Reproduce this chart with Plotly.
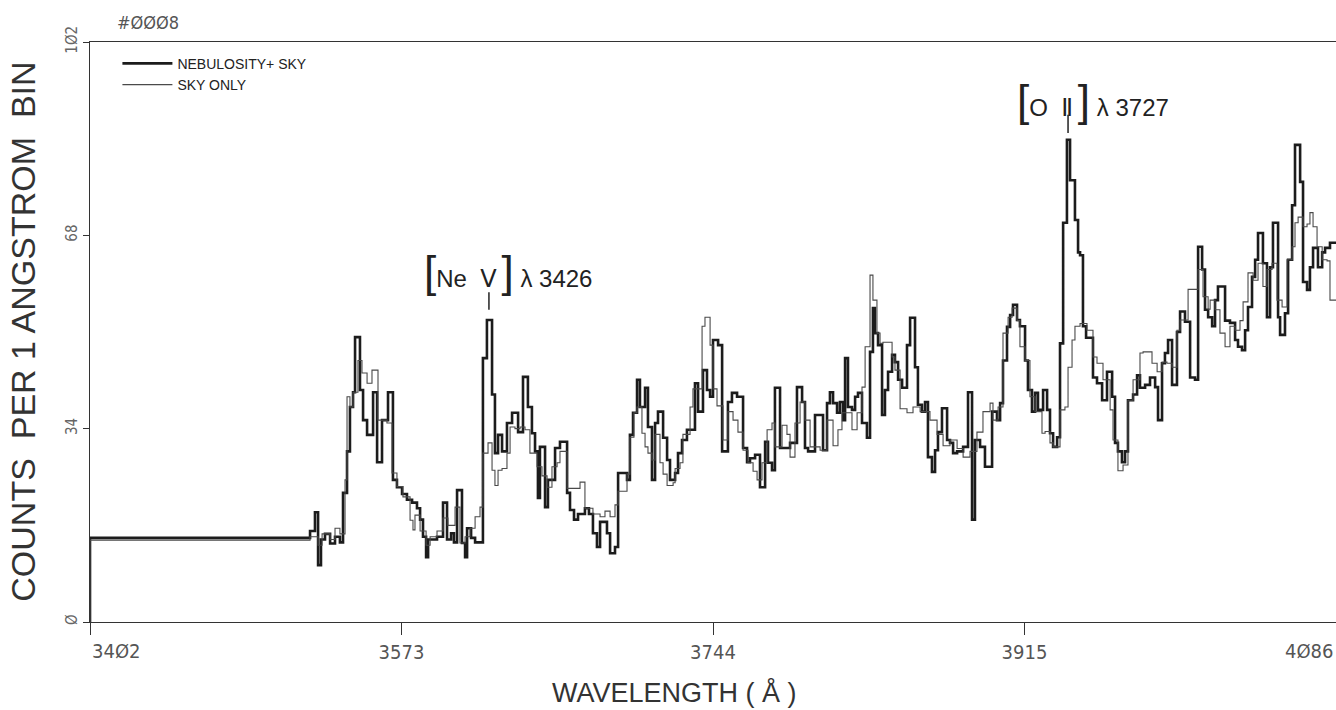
import plotly.graph_objects as go

# ---- data ----
neb_wl = [3402.0, 3402.0, 3522.8, 3525.5, 3527.2, 3528.8, 3531.0, 3533.8, 3536.5, 3539.2,
          3540.9, 3543.1, 3544.7, 3546.4, 3547.5, 3550.2, 3551.9, 3554.1, 3557.4, 3559.6,
          3562.3, 3565.6, 3568.3, 3570.5, 3573.3, 3576.0, 3578.8, 3581.5, 3583.2, 3584.8,
          3586.5, 3587.6, 3592.5, 3595.8, 3598.0, 3600.2, 3601.8, 3603.5, 3606.2, 3607.9,
          3609.0, 3611.2, 3613.4, 3617.7, 3619.9, 3622.7, 3624.3, 3626.0, 3628.2, 3630.9,
          3633.7, 3637.0, 3639.7, 3642.4, 3644.6, 3646.3, 3647.9, 3649.0, 3651.8, 3653.4,
          3657.3, 3660.0, 3663.9, 3665.5, 3667.7, 3669.9, 3673.7, 3675.9, 3678.1, 3680.3,
          3682.0, 3685.8, 3687.5, 3690.2, 3691.9, 3696.8, 3698.4, 3700.1, 3702.3, 3703.9,
          3706.7, 3708.3, 3710.5, 3712.2, 3713.8, 3716.6, 3718.8, 3720.4, 3723.2, 3724.8,
          3727.0, 3729.7, 3734.1, 3735.8, 3738.5, 3740.7, 3742.4, 3744.0, 3746.8, 3749.0,
          3752.2, 3754.4, 3757.2, 3760.5, 3762.7, 3764.3, 3767.1, 3769.8, 3772.6, 3774.2,
          3776.4, 3778.0, 3780.8, 3786.3, 3790.1, 3792.9, 3794.5, 3796.2, 3800.0, 3804.4,
          3806.6, 3808.2, 3809.9, 3812.1, 3813.7, 3815.4, 3816.5, 3818.1, 3820.3, 3822.0,
          3823.6, 3825.8, 3828.5, 3830.2, 3831.8, 3832.9, 3834.6, 3836.8, 3838.4, 3840.1,
          3842.3, 3843.9, 3845.6, 3847.8, 3850.5, 3852.2, 3854.9, 3856.5, 3858.7, 3860.4,
          3862.0, 3864.2, 3865.9, 3867.5, 3869.7, 3872.5, 3874.1, 3875.8, 3878.0, 3881.3,
          3884.0, 3886.2, 3887.8, 3890.6, 3893.3, 3897.2, 3899.9, 3901.6, 3903.2, 3905.4,
          3907.1, 3908.7, 3910.9, 3912.5, 3915.3, 3916.9, 3919.1, 3920.8, 3922.4, 3925.2,
          3927.4, 3929.0, 3930.7, 3932.9, 3934.5, 3936.2, 3938.3, 3940.0, 3942.7, 3944.4,
          3945.5, 3947.1, 3948.8, 3952.6, 3954.8, 3957.6, 3960.3, 3963.1, 3964.7, 3966.3,
          3968.5, 3970.2, 3971.8, 3974.6, 3976.8, 3978.4, 3981.2, 3983.9, 3986.7, 3988.3,
          3990.5, 3992.1, 3993.8, 3996.0, 3998.7, 4000.4, 4003.1, 4005.9, 4008.6, 4010.3,
          4012.5, 4014.1, 4015.8, 4018.0, 4019.6, 4021.2, 4025.1, 4027.8, 4030.6, 4032.2,
          4034.4, 4036.1, 4037.7, 4039.9, 4041.6, 4043.2, 4045.9, 4048.1, 4049.8, 4051.4,
          4054.2, 4055.3, 4058.0, 4059.7, 4061.9, 4063.5, 4066.3, 4067.9, 4070.1, 4071.7,
          4073.4, 4076.1, 4078.4, 4080.0, 4082.7, 4086.0]
neb_counts = [0.0, 14.8, 16.0, 19.3, 10.0, 14.5, 15.5, 13.8, 15.0, 14.0,
              22.7, 30.0, 37.8, 40.4, 50.1, 40.8, 35.5, 32.9, 40.4, 28.1,
              35.5, 40.4, 25.0, 23.7, 22.5, 21.5, 21.0, 20.0, 18.0, 15.0,
              11.4, 14.5, 15.0, 21.0, 14.5, 15.6, 14.0, 23.2, 13.9, 11.4,
              16.5, 14.8, 14.0, 46.4, 53.1, 40.0, 29.7, 32.9, 30.0, 35.0,
              36.8, 33.4, 43.1, 37.8, 33.2, 30.0, 21.8, 30.8, 20.2, 25.0,
              30.6, 31.7, 22.7, 19.7, 18.0, 19.0, 20.0, 19.0, 15.6, 13.2,
              17.6, 15.6, 12.1, 13.2, 26.2, 25.0, 32.9, 36.8, 42.6, 37.8,
              41.2, 34.3, 25.0, 35.0, 37.0, 32.4, 28.5, 25.0, 26.2, 29.7,
              32.0, 33.8, 42.0, 37.0, 44.3, 40.8, 39.6, 49.6, 48.7, 30.0,
              38.7, 40.3, 39.6, 30.6, 28.1, 28.8, 29.4, 23.7, 31.7, 28.0,
              26.7, 41.2, 30.6, 31.5, 41.3, 38.7, 30.6, 30.0, 36.4, 30.2,
              38.5, 40.4, 38.5, 36.8, 38.7, 35.5, 46.4, 37.8, 37.3, 39.6,
              40.3, 35.0, 32.4, 47.5, 55.2, 50.8, 48.7, 36.4, 40.8, 44.0,
              47.0, 45.7, 42.6, 41.2, 48.7, 53.5, 44.8, 38.2, 37.0, 38.7,
              29.0, 26.4, 30.2, 33.4, 37.6, 32.0, 31.5, 29.7, 30.0, 30.8,
              40.4, 18.0, 32.0, 30.8, 27.3, 37.0, 35.5, 38.5, 46.0, 51.9,
              54.0, 55.8, 53.1, 52.0, 46.0, 40.8, 37.0, 40.3, 37.3, 40.8,
              37.3, 33.2, 30.8, 32.5, 49.0, 70.2, 84.8, 77.7, 70.7, 65.0,
              64.5, 52.0, 50.0, 43.0, 42.0, 39.0, 44.0, 39.6, 31.5, 30.0,
              28.1, 30.0, 39.0, 40.0, 43.4, 41.2, 41.7, 43.0, 41.3, 35.5,
              45.5, 47.3, 49.6, 41.7, 51.0, 54.6, 52.8, 43.0, 42.6, 66.0,
              62.0, 54.9, 53.6, 52.0, 56.6, 59.0, 53.0, 52.6, 49.6, 48.4,
              47.8, 51.3, 55.4, 60.7, 63.7, 68.4, 63.1, 53.6, 62.4, 70.2,
              53.6, 50.5, 54.3, 63.7, 73.3, 83.9, 77.4, 59.8, 58.4, 62.4,
              65.8, 62.4, 65.0, 65.8, 66.7, 66.7]

sky_wl = [3402.0, 3402.0, 3522.8, 3527.2, 3529.4, 3533.8, 3536.5, 3539.2, 3542.0, 3543.1,
          3544.7, 3546.4, 3549.1, 3551.3, 3554.1, 3556.8, 3560.1, 3565.0, 3567.8, 3570.5,
          3573.8, 3577.7, 3579.3, 3580.4, 3583.2, 3586.5, 3588.7, 3592.5, 3595.8, 3598.5,
          3602.4, 3605.1, 3607.9, 3610.6, 3613.4, 3616.1, 3617.7, 3620.5, 3622.7, 3624.3,
          3626.0, 3628.2, 3630.9, 3632.6, 3635.3, 3638.1, 3640.8, 3643.5, 3647.4, 3650.1,
          3652.9, 3655.6, 3658.4, 3660.0, 3663.9, 3671.0, 3673.7, 3678.1, 3682.0, 3684.7,
          3687.5, 3690.2, 3691.9, 3696.8, 3698.4, 3700.6, 3702.3, 3705.0, 3706.7, 3708.3,
          3710.5, 3712.2, 3714.9, 3716.6, 3718.8, 3722.1, 3723.2, 3725.9, 3727.5, 3731.4,
          3733.0, 3738.0, 3739.6, 3742.4, 3744.0, 3746.2, 3749.5, 3752.2, 3755.0, 3757.7,
          3760.5, 3763.2, 3766.0, 3768.2, 3770.9, 3773.7, 3776.4, 3778.0, 3781.9, 3784.6,
          3786.3, 3789.0, 3791.8, 3794.5, 3797.3, 3802.8, 3806.6, 3809.9, 3812.6, 3814.8,
          3820.3, 3823.1, 3825.8, 3827.5, 3830.2, 3831.8, 3834.0, 3835.7, 3837.3, 3842.3,
          3843.9, 3846.7, 3850.5, 3853.8, 3857.7, 3863.1, 3867.0, 3870.3, 3874.1, 3878.0,
          3881.3, 3885.1, 3888.9, 3892.2, 3896.1, 3897.7, 3900.5, 3903.2, 3906.0, 3908.2,
          3910.9, 3912.5, 3915.3, 3918.0, 3920.8, 3924.6, 3926.3, 3929.0, 3930.7, 3934.5,
          3937.2, 3938.9, 3941.1, 3942.7, 3945.5, 3949.3, 3952.6, 3954.8, 3958.1, 3962.0,
          3963.6, 3966.3, 3969.1, 3971.8, 3974.6, 3978.4, 3980.1, 3985.0, 3987.8, 3990.5,
          3993.2, 3996.0, 3998.7, 4000.4, 4004.8, 4010.3, 4013.0, 4015.8, 4016.9, 4019.6,
          4022.3, 4025.1, 4027.8, 4030.6, 4033.3, 4035.0, 4037.7, 4040.5, 4043.2, 4045.9,
          4048.1, 4050.9, 4053.6, 4056.4, 4059.1, 4061.9, 4063.5, 4065.2, 4067.9, 4070.1,
          4071.7, 4073.4, 4075.6, 4078.4, 4081.1, 4082.7, 4086.0]
sky_counts = [0.0, 14.4, 15.0, 13.5, 15.5, 14.5, 16.5, 15.5, 25.0, 39.6,
              37.8, 40.4, 46.0, 43.8, 42.0, 44.3, 35.5, 35.0, 26.2, 23.8,
              22.0, 17.9, 16.2, 18.8, 16.0, 13.5, 15.0, 16.0, 18.3, 17.0,
              20.2, 13.9, 15.0, 16.5, 18.5, 20.2, 29.7, 31.5, 26.7, 24.0,
              26.7, 27.0, 29.7, 34.3, 34.0, 34.3, 33.8, 29.7, 27.3, 25.7,
              23.7, 27.3, 28.0, 30.0, 23.5, 24.6, 20.0, 19.0, 18.5, 19.5,
              18.5, 20.6, 23.0, 26.0, 32.5, 36.8, 37.8, 33.2, 30.8, 29.7,
              28.5, 33.0, 28.0, 26.0, 24.0, 24.5, 27.0, 28.0, 33.0, 37.8,
              41.0, 52.0, 53.6, 48.7, 41.0, 38.0, 32.0, 37.0, 35.5, 33.4,
              30.2, 28.0, 26.5, 25.0, 28.0, 33.8, 35.0, 30.8, 34.6, 33.0,
              29.0, 35.0, 38.7, 35.5, 30.8, 30.2, 35.5, 31.0, 33.8, 36.8,
              33.8, 36.8, 41.3, 48.4, 61.0, 56.6, 50.8, 49.0, 49.2, 46.6,
              44.3, 37.5, 36.8, 37.8, 37.0, 35.5, 33.0, 31.0, 32.0, 30.5,
              29.0, 30.0, 33.4, 37.0, 38.5, 35.5, 37.8, 50.8, 53.6, 55.2,
              53.0, 48.4, 46.0, 39.6, 37.0, 33.2, 33.5, 31.5, 30.8, 37.3,
              37.8, 44.8, 49.6, 52.0, 52.5, 51.3, 46.6, 45.5, 42.6, 37.3,
              32.0, 26.6, 27.6, 39.0, 42.6, 47.3, 47.5, 45.5, 44.0, 45.7,
              45.5, 44.8, 51.3, 53.1, 58.5, 62.0, 57.2, 55.0, 56.6, 54.9,
              50.8, 48.4, 52.0, 51.3, 53.0, 56.3, 61.4, 60.1, 63.1, 59.0,
              62.0, 63.1, 56.6, 55.4, 63.7, 66.0, 70.2, 71.2, 69.5, 70.0,
              72.0, 69.5, 66.0, 63.7, 63.5, 56.6, 56.6]

x_ticks = [3402, 3573, 3744, 3915, 4086]
x_tick_text = ["34Ø2", "3573", "3744", "3915", "4Ø86"]
y_ticks = [0, 34, 68, 102]
y_tick_text = ["Ø", "34", "68", "1Ø2"]

x_range = [3402, 4086]
y_range = [0, 102]

# line identifications: (ion, lambda, line x, label y, tick top, tick bottom, label left)
lines = [
    ("Ne  Ⅴ\u2009", "3426", 3621.0, 61.6, 58.0, 54.9, 3584.0),
    ("O  Ⅱ\u2009", "3727", 3938.9, 91.8, 89.2, 86.0, 3910.0),
]

FONT = "Liberation Sans Narrow, DejaVu Sans Condensed, Liberation Sans, sans-serif"
SANS = "Liberation Sans, DejaVu Sans, sans-serif"
INK = "#222222"

fig = go.Figure()
fig.add_trace(go.Scatter(x=neb_wl, y=neb_counts, mode="lines", line_shape="hv",
                         line=dict(color="#1c1c1c", width=2.6), name="NEBULOSITY+ SKY"))
fig.add_trace(go.Scatter(x=sky_wl, y=sky_counts, mode="lines", line_shape="hv",
                         line=dict(color="#4a4a4a", width=1.1), name="SKY ONLY"))

annotations = []
shapes = []
for name, lam, xline, ytext, ytop, ybot, xleft in lines:
    br = "<span style='font-size:44px;color:%s'>%s</span>"
    annotations.append(dict(
        x=xleft, y=ytext, xref="x", yref="y", xanchor="left", yanchor="middle",
        showarrow=False,
        text=(br % (INK, "[") + name + br % (INK, "]") + " λ " + lam),
        font=dict(family=SANS, size=24, color=INK)))
    shapes.append(dict(type="line", xref="x", yref="y", x0=xline, x1=xline,
                       y0=ybot, y1=ytop, line=dict(color=INK, width=1.5)))

# end tick labels (first left-aligned, last right-aligned as in the plot)
annotations.append(dict(x=x_ticks[0], y=-0.05, xref="x", yref="paper", xanchor="left",
                        yanchor="middle", showarrow=False, text=x_tick_text[0],
                        font=dict(family=FONT, size=20, color="#555")))
annotations.append(dict(x=x_ticks[-1], y=-0.05, xref="x", yref="paper", xanchor="right",
                        yanchor="middle", showarrow=False, text=x_tick_text[-1],
                        font=dict(family=FONT, size=20, color="#555")))
# titles
annotations.append(dict(x=-0.054, y=0.5, xref="paper", yref="paper", xanchor="center",
                        yanchor="middle", showarrow=False, textangle=-90,
                        text="COUNTS  PER 1 ANGSTROM  BIN",
                        font=dict(family=SANS, size=34, color="#333")))
annotations.append(dict(x=0.4695, y=-0.121, xref="paper", yref="paper", xanchor="center",
                        yanchor="middle", showarrow=False, text="WAVELENGTH ( Å )",
                        font=dict(family=SANS, size=27, color="#333")))
annotations.append(dict(x=0.02, y=1.034, xref="paper", yref="paper", xanchor="left",
                        yanchor="middle", showarrow=False, text="#ØØØ8",
                        font=dict(family=FONT, size=18, color="#555")))

fig.update_layout(
    width=1336, height=710,
    margin=dict(l=90, r=0, t=42, b=88),
    paper_bgcolor="white", plot_bgcolor="white",
    showlegend=True,
    legend=dict(x=0.022, y=0.99, xanchor="left", yanchor="top",
                bgcolor="rgba(0,0,0,0)", font=dict(family=SANS, size=14, color="#222"),
                tracegroupgap=0, itemwidth=50),
    annotations=annotations, shapes=shapes,
    xaxis=dict(range=x_range, tickvals=x_ticks,
               ticktext=[""] + x_tick_text[1:-1] + [""],
               showgrid=False, zeroline=False, showline=True, mirror=True,
               linecolor="#333", linewidth=1, ticks="outside", ticklen=12,
               tickcolor="#333", automargin=False,
               tickfont=dict(family=FONT, size=20, color="#555")),
    yaxis=dict(range=y_range, tickvals=y_ticks, ticktext=y_tick_text,
               showgrid=False, zeroline=False, showline=True, mirror=True,
               linecolor="#333", linewidth=1, ticks="outside", ticklen=6,
               tickcolor="#333", tickangle=-90, automargin=False,
               tickfont=dict(family=FONT, size=15, color="#666")),
)

# remove the default page margin so the figure fills the window exactly
fig.write_html("out.html", config={"displayModeBar": False},
               post_script="document.body.style.margin='0px';")
